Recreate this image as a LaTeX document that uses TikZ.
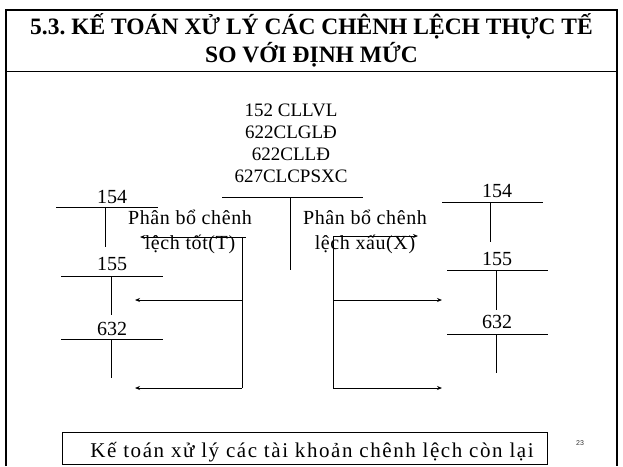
\documentclass[tikz,border=0pt]{standalone}
\usepackage{fontspec}
\setmainfont{Liberation Serif}
\newfontfamily\pagenofont{Liberation Sans}
\newfontfamily\spacedfont[LetterSpace=7.5]{Liberation Serif}
\newfontfamily\labfont[LetterSpace=3]{Liberation Serif}
\usetikzlibrary{arrows.meta, positioning}

\begin{document}
\begin{tikzpicture}[x=1pt, y=-1pt,
  title/.style={font=\fontsize{23.5}{28}\selectfont\bfseries, align=center, inner sep=0pt},
  acct/.style={font=\fontsize{20}{22}\selectfont, inner sep=0pt, anchor=base},
  lab/.style={font=\fontsize{19}{22}\selectfont, align=center, inner sep=0pt, anchor=base},
  varlab/.style={font=\labfont\fontsize{20}{25}\selectfont, align=center, inner sep=0pt, anchor=base},
  tline/.style={draw, line width=0.9pt},
  arr/.style={draw, line width=0.9pt, -{Stealth[length=5pt, width=4pt]}},
  frame/.style={draw, line width=1.2pt},
]
\useasboundingbox (0,0) rectangle (623,466);
% slide frame and title
\draw[frame] (6,466) -- (6,10) -- (617,10) -- (617,466);
\draw[line width=2pt] (6,10) -- (6,466);
\draw[tline] (6,71) -- (617,71);
\node[title, anchor=base] (title) at (311.5,62) {5.3.~KẾ~TOÁN~XỬ~LÝ~CÁC~CHÊNH~LỆCH~THỰC~TẾ\\SO VỚI ĐỊNH MỨC};

% central differences account
\node[lab] (cl) at (291,182) {152 CLLVL\\622CLGLĐ\\622CLLĐ\\627CLCPSXC};
\coordinate (clL) at (222,197);
\coordinate (clR) at (363,197);
\coordinate (clT) at (290,197);
\coordinate (clB) at (290,270);
\draw[tline] (clL) -- (clR);
\draw[tline] (clT) -- (clB);

% left accounts
\node[acct] (l154) at (112,203) {154};
\draw[tline] (56,207) -- (158,207);
\draw[tline] (105,207) -- (105,247);
\node[acct] (l155) at (112,270) {155};
\draw[tline] (61,276) -- (163,276);
\draw[tline] (111,276) -- (111,315);
\node[acct] (l632) at (112,335) {632};
\draw[tline] (61,339) -- (163,339);
\draw[tline] (111,339) -- (111,378);

% right accounts
\node[acct] (r154) at (497,197) {154};
\draw[tline] (442,202) -- (543,202);
\draw[tline] (490,202) -- (490,242);
\node[acct] (r155) at (497,265) {155};
\draw[tline] (447,270) -- (548,270);
\draw[tline] (496,270) -- (496,310);
\node[acct] (r632) at (497,328) {632};
\draw[tline] (447,334) -- (548,334);
\draw[tline] (496,334) -- (496,373);

% favourable variance (T)
\node[varlab] (tot) at (190,249) {Phân bổ chênh\\lệch tốt(T)};
\coordinate (tA) at (246,237);
\coordinate (tV) at (242,237);
\coordinate (tM) at (242,300);
\coordinate (tB) at (242,388);
\coordinate (t154) at (140,237);
\coordinate (t155) at (135,300);
\coordinate (t632) at (135,388);
\draw[arr] (tA) -- (t154);
\draw[tline] (tV) -- (tB);
\draw[arr] (tM) -- (t155);
\draw[arr] (tB) -- (t632);

% unfavourable variance (X)
\node[varlab] (xau) at (365,249) {Phân bổ chênh\\lệch xấu(X)};
\coordinate (xV) at (333,236);
\coordinate (xM) at (333,300);
\coordinate (xB) at (333,388);
\coordinate (x154) at (418,236);
\coordinate (x155) at (442,300);
\coordinate (x632) at (442,388);
\draw[arr] (xV) -- (x154);
\draw[tline] (xV) -- (xB);
\draw[arr] (xM) -- (x155);
\draw[arr] (xB) -- (x632);

% remaining accounts
\draw[tline] (62,432) rectangle (547,464);
\node[font=\spacedfont\fontsize{21}{24}\selectfont, inner sep=0pt, anchor=base] (rest) at (312,457) {Kế toán xử lý các tài khoản chênh lệch còn lại};
\node[font=\pagenofont\fontsize{7}{8}\selectfont, text=black!80, inner sep=0pt] (pageno) at (580,443) {23};
\end{tikzpicture}
\end{document}
